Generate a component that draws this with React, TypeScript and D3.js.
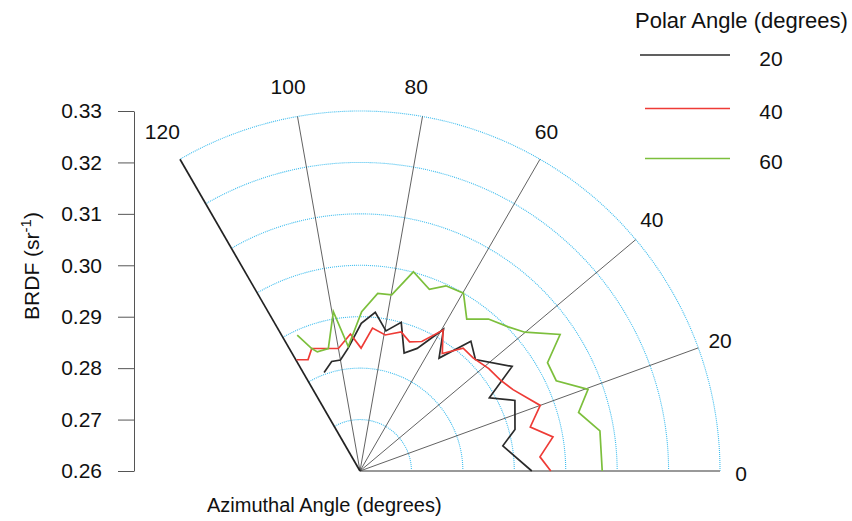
import React from "react";
import * as d3 from "d3";

// azimuth (deg) and BRDF values, one pair of arrays per polar angle
const az20 = [110, 104.5, 100, 95.5, 89.5, 84.5, 79.5, 74.5, 69.5, 65, 59.5, 55, 49.5, 44, 34.5, 29.5, 24.5, 15, 10, 0];
const brdf20 = [0.2804, 0.282, 0.2819, 0.284, 0.2887, 0.291, 0.2877, 0.29, 0.2845, 0.2863, 0.292, 0.2868, 0.2932, 0.2912, 0.2959, 0.2889, 0.2931, 0.2912, 0.2882, 0.2934];

const az40 = [119.7, 115, 111.5, 100, 94, 89.5, 85, 79.5, 73.5, 69, 64.5, 59.5, 55, 50, 45, 38.5, 33, 28, 20, 14.5, 10, 4.5, 0];
const brdf40 = [0.2849, 0.2839, 0.2856, 0.2842, 0.2867, 0.2839, 0.2879, 0.2869, 0.2882, 0.2869, 0.2879, 0.2918, 0.2879, 0.2912, 0.2911, 0.292, 0.2925, 0.2937, 0.2973, 0.2942, 0.2981, 0.2951, 0.2971];

const az60 = [114.8, 111.5, 109.7, 104.5, 99.5, 95.4, 89.4, 84.3, 79.8, 75, 69.1, 65.1, 59.8, 54.9, 49.8, 44.2, 40.1, 34.3, 30, 24.7, 19.7, 15, 9.5, 0];
const brdf60 = [0.2891, 0.2856, 0.2846, 0.2846, 0.2914, 0.2843, 0.291, 0.2947, 0.2948, 0.3001, 0.2978, 0.2997, 0.3, 0.2961, 0.2987, 0.3002, 0.3019, 0.3071, 0.3021, 0.302, 0.3071, 0.304, 0.3073, 0.3071];

const polarAngles = ["20", "40", "60"];
const seriesColors = ["#2b2b2b", "#ee3b36", "#7cbf3c"];
const azTicks = [0, 20, 40, 60, 80, 100, 120];
const rTicks = [0.26, 0.27, 0.28, 0.29, 0.3, 0.31, 0.32, 0.33];

const FONT = "'Liberation Sans', Arial, sans-serif";

// small angular nudges so the azimuth labels sit where the original put them
const labelNudge: Record<number, number> = { 0: -0.45, 20: -0.1, 40: 0.7, 60: 1.2, 80: 1.7, 100: 0.6, 120: 0.2 };

export default function App() {
  const axisRef = React.useRef<SVGGElement | null>(null);
  const cx = 360;
  const cy = 471;
  const R = 360;
  const r = d3.scaleLinear().domain([0.26, 0.33]).range([0, R]);
  const y = d3.scaleLinear().domain([0.26, 0.33]).range([cy, cy - R]);
  const rad = (deg: number) => (deg * Math.PI) / 180;
  const px = (deg: number, rr: number) => cx + rr * Math.cos(rad(deg));
  const py = (deg: number, rr: number) => cy - rr * Math.sin(rad(deg));

  React.useEffect(() => {
    if (!axisRef.current) return;
    const g = d3.select(axisRef.current);
    g.selectAll("*").remove();
    g.call(
      d3
        .axisLeft(y)
        .tickValues(rTicks)
        .tickFormat(d3.format(".2f"))
        .tickSizeInner(16)
        .tickSizeOuter(0)
        .tickPadding(16)
    );
    g.select(".domain").attr("stroke", "#555");
    g.selectAll(".tick line").attr("stroke", "#555");
    g.selectAll(".tick text")
      .attr("font-size", 21)
      .attr("font-family", FONT)
      .attr("fill", "#111");
  }, []);

  const series = [
    { az: az20, v: brdf20 },
    { az: az40, v: brdf40 },
    { az: az60, v: brdf60 },
  ];
  const line = d3
    .line<[number, number]>()
    .x(d => px(d[0], r(d[1])))
    .y(d => py(d[0], r(d[1])));

  const arcPath = (rr: number) => {
    const p = d3.path();
    p.moveTo(cx + rr, cy);
    p.arc(cx, cy, rr, 0, -rad(120), true);
    return p.toString();
  };

  return (
    <svg width={852} height={521} style={{ position: "absolute", left: 0, top: 0 }} fontFamily={FONT}>
      <rect width={852} height={521} fill="#fff" />
      {rTicks.slice(1).map(t => (
        <path key={t} d={arcPath(r(t))} fill="none" stroke="#3cbcee" strokeWidth={1.1} strokeDasharray="1,1" />
      ))}
      {azTicks.map(a => (
        <line
          key={a}
          x1={cx}
          y1={cy}
          x2={px(a, R)}
          y2={py(a, R)}
          stroke={a === 0 ? "#999" : a === 120 ? "#222" : "#3a3a3a"}
          strokeWidth={a === 0 ? 2 : a === 120 ? 1.7 : 0.8}
        />
      ))}
      {azTicks.map(a => {
        const lr = 381 + a * 0.1;
        const la = a + labelNudge[a];
        return (
          <text
            key={"l" + a}
            x={px(la, lr)}
            y={py(la, lr)}
            textAnchor="middle"
            dominantBaseline="central"
            fontSize={21}
            fill="#111"
          >
            {a}
          </text>
        );
      })}
      {series.map((s, i) => (
        <path
          key={i}
          d={line(s.az.map((a, j) => [a, s.v[j]] as [number, number])) || ""}
          fill="none"
          stroke={seriesColors[i]}
          strokeWidth={1.7}
          strokeLinejoin="miter"
        />
      ))}
      <g ref={axisRef} transform="translate(134,0)" />
      <text transform="translate(39,266) rotate(-90)" textAnchor="middle" fontSize={21} fill="#111">
        BRDF (sr<tspan baselineShift="super" fontSize={15}>-1</tspan>)
      </text>
      <text x={207} y={512} fontSize={20} fill="#111">
        Azimuthal Angle (degrees)
      </text>
      <text x={635} y={28} fontSize={22} fill="#111">
        Polar Angle (degrees)
      </text>
      {polarAngles.map((lab, i) => {
        const ly = [55, 108.5, 158.5][i];
        return (
          <g key={lab}>
            <line x1={i === 0 ? 640 : 645} x2={730} y1={ly} y2={ly} stroke={seriesColors[i]} strokeWidth={i === 0 ? 1.3 : 1.7} />
            <text x={771} y={ly + 3} textAnchor="middle" dominantBaseline="central" fontSize={21} fill="#111">
              {lab}
            </text>
          </g>
        );
      })}
    </svg>
  );
}
